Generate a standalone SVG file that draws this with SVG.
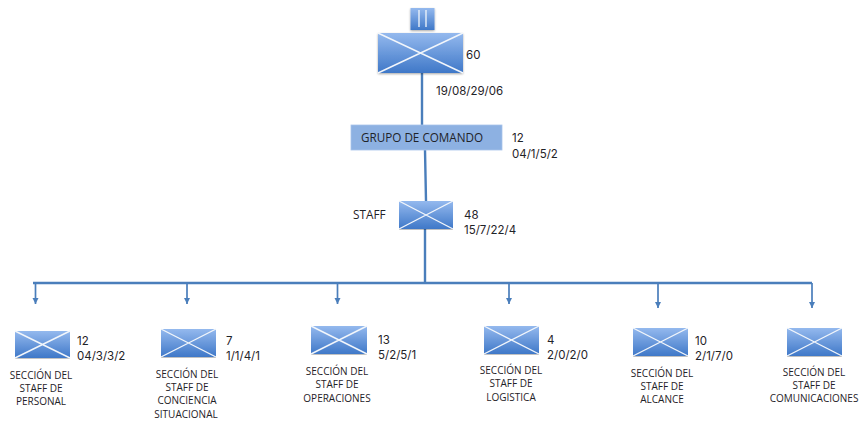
<svg xmlns="http://www.w3.org/2000/svg" width="860" height="421" viewBox="0 0 860 421">
<defs>
<linearGradient id="g" x1="0" y1="0" x2="0" y2="1"><stop offset="0" stop-color="#94b9ee"/><stop offset="1" stop-color="#3f78c8"/></linearGradient>
<filter id="s" x="-10%" y="-10%" width="120%" height="125%"><feDropShadow dx="0" dy="1" stdDeviation="0.8" flood-color="#000" flood-opacity="0.35"/></filter>
<marker id="a" markerUnits="userSpaceOnUse" markerWidth="8" markerHeight="8" refX="6" refY="4" orient="auto"><path d="M0 1L6 4L0 7Z" fill="#4a7ebb"/></marker>
<symbol id="unit" viewBox="0 0 85 40" preserveAspectRatio="none" overflow="visible">
<rect x="0" y="0" width="85" height="40" fill="url(#g)" filter="url(#s)"/>
<path d="M0 0L85 40M85 0L0 40" stroke="#f2f6fb" stroke-width="1.4" fill="none" vector-effect="non-scaling-stroke"/>
</symbol>
</defs>
<style>
text{font-family:"Open Sans","DejaVu Sans",sans-serif;fill:#1f2328}
text.n{font-family:Inter,"Open Sans",sans-serif;font-size:11.5px}
.s{font-size:10px;text-anchor:middle}
.l{stroke:#4a7ebb;stroke-width:2.4;fill:none}
.d{stroke:#4a7ebb;stroke-width:1.7;fill:none;marker-end:url(#a)}
</style>
<rect width="860" height="421" fill="#fff"/>
<g id="connectors">
<path class="l" d="M422 73V125M425 150L426 201M425 229V283M33 283H812"/>
<path class="d" d="M35.500 283V304"/>
<path class="d" d="M187 283V304"/>
<path class="d" d="M337.500 283V304"/>
<path class="d" d="M509 283V304"/>
<path class="d" d="M658 283V308"/>
<path class="d" d="M812 283V308"/>
</g>
<g id="echelon"><rect x="410.500" y="8" width="24" height="22" fill="url(#g)" filter="url(#s)"/><path d="M419 10V27M426 10V27" stroke="#f2f6fb" stroke-width="1.3"/></g>
<g id="battalion"><use href="#unit" x="378" y="33" width="85" height="40"/><text class="n" x="466" y="59">60</text><text class="n" x="436" y="95">19/08/29/06</text></g>
<g id="grupo-comando"><rect x="351" y="125" width="151" height="25" fill="#8db1e2" stroke="#a9c4ea" stroke-width="0.8"/><text x="361" y="142" font-size="11.700">GRUPO DE COMANDO</text><text class="n" x="512" y="142">12</text><text class="n" x="512" y="158">04/1/5/2</text></g>
<g id="staff"><use href="#unit" x="399" y="201" width="54" height="28"/><text x="353" y="219" font-size="11.800">STAFF</text><text class="n" x="464" y="219">48</text><text class="n" x="464" y="234">15/7/22/4</text></g>
<g id="personal"><use href="#unit" x="15" y="331" width="55" height="27"/><text class="n" x="77" y="345">12</text><text class="n" x="77" y="360">04/3/3/2</text><text class="s"><tspan x="41" y="379">SECCIÓN DEL</tspan><tspan x="41" y="392">STAFF DE</tspan><tspan x="41" y="405">PERSONAL</tspan></text></g>
<g id="conciencia"><use href="#unit" x="161" y="329" width="55" height="28"/><text class="n" x="226" y="345">7</text><text class="n" x="226" y="360">1/1/4/1</text><text class="s"><tspan x="187" y="378">SECCIÓN DEL</tspan><tspan x="187" y="391">STAFF DE</tspan><tspan x="187" y="404">CONCIENCIA</tspan><tspan x="186" y="418">SITUACIONAL</tspan></text></g>
<g id="operaciones"><use href="#unit" x="311" y="326" width="56" height="28"/><text class="n" x="378" y="344">13</text><text class="n" x="378" y="359">5/2/5/1</text><text class="s"><tspan x="337" y="375">SECCIÓN DEL</tspan><tspan x="337" y="388">STAFF DE</tspan><tspan x="337" y="402">OPERACIONES</tspan></text></g>
<g id="logistica"><use href="#unit" x="484" y="326" width="55" height="28"/><text class="n" x="547" y="344">4</text><text class="n" x="547" y="359">2/0/2/0</text><text class="s"><tspan x="511" y="374">SECCIÓN DEL</tspan><tspan x="511" y="387">STAFF DE</tspan><tspan x="511" y="401">LOGISTICA</tspan></text></g>
<g id="alcance"><use href="#unit" x="633" y="328" width="55" height="28"/><text class="n" x="695" y="345">10</text><text class="n" x="695" y="360">2/1/7/0</text><text class="s"><tspan x="662" y="377">SECCIÓN DEL</tspan><tspan x="662" y="390">STAFF DE</tspan><tspan x="662" y="403">ALCANCE</tspan></text></g>
<g id="comunicaciones"><use href="#unit" x="787" y="328" width="55" height="28"/><text class="s"><tspan x="814" y="376">SECCIÓN DEL</tspan><tspan x="814" y="389">STAFF DE</tspan><tspan x="814" y="402">COMUNICACIONES</tspan></text></g>
</svg>
